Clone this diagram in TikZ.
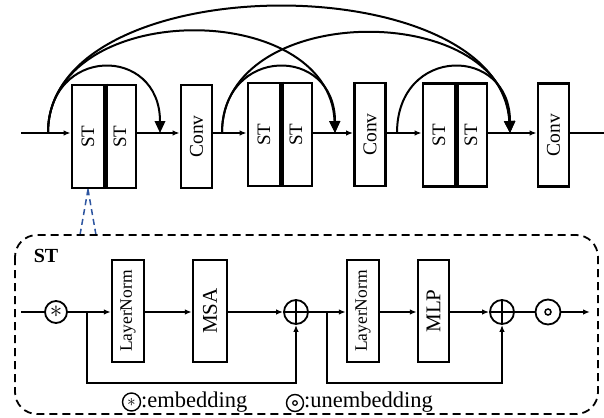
\documentclass[tikz,border=0pt]{standalone}
\usepackage{fontspec}
\usepackage{graphicx}
\setmainfont{Liberation Serif}
\usetikzlibrary{arrows.meta}
\definecolor{callout}{RGB}{45,85,160}

\begin{document}
\begin{tikzpicture}[x=1pt,y=-1pt,
  blk/.style={draw, line width=2.8pt, inner sep=0pt, minimum width=32pt, minimum height=103pt},
  sub/.style={draw, line width=2.4pt, inner sep=0pt, minimum width=32pt, minimum height=102pt},
  flow/.style={line width=1.8pt, -{Latex[length=7pt,width=5.5pt]}},
  plain/.style={line width=1.8pt},
  divider/.style={line width=4.5pt},
  jump/.style={line width=2pt, -{Triangle[length=12pt,width=10.5pt]}},
  circ/.style={draw, circle, line width=1.8pt, inner sep=0pt, minimum size=23pt},
  stfont/.style={font=\fontsize{19}{22}\selectfont},
  convfont/.style={font=\fontsize{19.5}{22}\selectfont},
  lnfont/.style={font=\fontsize{17.5}{20}\selectfont},
  opfont/.style={font=\fontsize{21}{24}\selectfont},
  legfont/.style={font=\fontsize{22.5}{26}\selectfont},
]
\useasboundingbox (0,0) rectangle (604,417);

% ---------- top chain ----------
\node[blk, stfont] (st1a) at (88,136.5)  {\rotatebox{90}{ST}};
\node[blk, stfont] (st1b) at (120,136.5) {\rotatebox{90}{ST}};
\node[blk, convfont, minimum width=31pt] (cv1) at (196.5,136.5) {\rotatebox{90}{Conv}};
\node[blk, stfont] (st2a) at (264,134.5)  {\rotatebox{90}{ST}};
\node[blk, stfont] (st2b) at (296,134.5)  {\rotatebox{90}{ST}};
\node[blk, convfont, minimum width=31pt] (cv2) at (370,134.5) {\rotatebox{90}{Conv}};
\node[blk, stfont] (st3a) at (439,135)  {\rotatebox{90}{ST}};
\node[blk, stfont] (st3b) at (471,135)  {\rotatebox{90}{ST}};
\node[blk, convfont, minimum width=31pt] (cv3) at (553.5,135) {\rotatebox{90}{Conv}};

% heavier shared wall inside each ST pair
\draw[divider] (st1a.north east) -- (st1a.south east);
\draw[divider] (st2a.north east) -- (st2a.south east);
\draw[divider] (st3a.north east) -- (st3a.south east);

\coordinate (in)  at (21,133);
\coordinate (out) at (604,133);
\coordinate (s1) at (48,133);
\coordinate (e1) at (160,133);
\coordinate (s2) at (222,133);
\coordinate (e2) at (335,133);
\coordinate (s3) at (397,133);
\coordinate (e3) at (510,133);

\draw[flow] (in) -- (st1a.west |- in);
\draw[flow] (st1b.east |- in) -- (cv1.west |- in);
\draw[flow] (cv1.east |- in) -- (st2a.west |- in);
\draw[flow] (st2b.east |- in) -- (cv2.west |- in);
\draw[flow] (cv2.east |- in) -- (st3a.west |- in);
\draw[flow] (st3b.east |- in) -- (cv3.west |- in);
\draw[plain] (cv3.east |- in) -- (out);

% dense skip connections
\draw[jump] (s1) .. controls +(0,-88)  and +(0,-88)  .. (e1);
\draw[jump] (s1) .. controls +(0,-135) and +(-5,-135) .. (e2);
\draw[jump] (s1) .. controls +(0,-168) and +(-10,-168) .. (e3);
\draw[jump] (s2) .. controls +(0,-88)  and +(0,-88)  .. (e2);
\draw[jump] (s2) .. controls +(0,-133) and +(-5,-133) .. (e3);
\draw[jump] (s3) .. controls +(0,-88)  and +(0,-88)  .. (e3);

% ---------- callout ----------
\coordinate (cl) at (80,235);
\coordinate (cr) at (96,235);
\draw[callout, line width=1.5pt, dash pattern=on 6pt off 4pt] (st1a.south) -- (cl);
\draw[callout, line width=1.5pt, dash pattern=on 6pt off 4pt] (st1a.south) -- (cr);

% ---------- ST detail ----------
\draw[line width=1.8pt, dash pattern=on 8pt off 5pt, rounded corners=22pt] (15,235) rectangle (598,414);
\node[font=\fontsize{20}{22}\selectfont\bfseries] (lbl) at (46,256) {ST};

\coordinate (bin) at (21,312);
\node[circ, minimum size=22pt, font=\fontsize{24}{24}\selectfont] (emb) at (56,312) {$\ast$};
\node[sub, lnfont] (ln1) at (128,311) {\rotatebox{90}{LayerNorm}};
\node[sub, opfont, minimum width=34pt] (msa) at (210,311) {\rotatebox{90}{MSA}};
\node[circ, minimum size=24pt] (p1) at (296,312) {};
\node[sub, lnfont] (ln2) at (363,311) {\rotatebox{90}{LayerNorm}};
\node[sub, opfont, minimum width=31pt] (mlp) at (433.5,311) {\rotatebox{90}{MLP}};
\node[circ, minimum size=24pt] (p2) at (502,312) {};
\node[circ, minimum size=25pt] (unemb) at (548,312) {};
\coordinate (bout) at (590,312);

\draw[plain] (p1.north) -- (p1.south) (p1.west) -- (p1.east);
\draw[plain] (p2.north) -- (p2.south) (p2.west) -- (p2.east);
\draw[line width=1.5pt] (unemb.center) circle (3pt);

\coordinate (b1) at (87,312);
\coordinate (b2) at (327,312);

\draw[plain] (bin) -- (emb);
\draw[flow] (emb) -- (ln1.west |- emb);
\draw[flow] (ln1.east |- emb) -- (msa.west |- emb);
\draw[flow] (msa.east |- emb) -- (p1);
\draw[flow] (p1) -- (ln2.west |- p1);
\draw[flow] (ln2.east |- p1) -- (mlp.west |- p1);
\draw[flow] (mlp.east |- p1) -- (p2);
\draw[plain] (p2) -- (unemb);
\draw[flow] (unemb) -- (bout);

\draw[flow] (b1) -- (87,383) -| (p1.south);
\draw[flow] (b2) -- (327,383) -| (p2.south);

% ---------- legend ----------
\node[circ, line width=1.4pt, minimum size=18pt, font=\fontsize{19}{19}\selectfont] (lg1) at (131.5,402) {$\ast$};
\node[legfont, anchor=base west, inner sep=0pt] (lt1) at (141,407) {:embedding};
\node[circ, line width=1.4pt, minimum size=17pt] (lg2) at (295,403) {};
\draw[line width=1.2pt] (lg2.center) circle (2.3pt);
\node[legfont, anchor=base west, inner sep=0pt] (lt2) at (304,407) {:unembedding};
\end{tikzpicture}
\end{document}
